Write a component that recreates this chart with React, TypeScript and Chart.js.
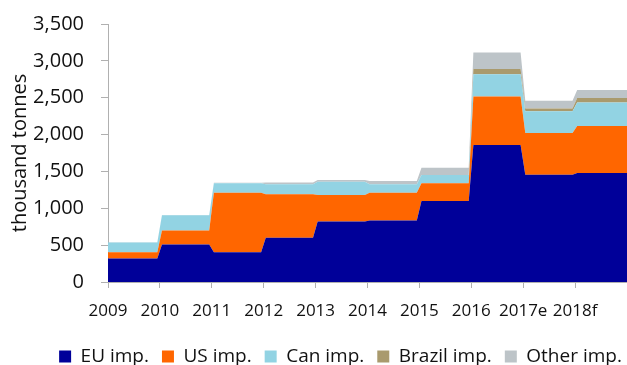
import React, { useEffect, useRef } from "react";
import { Chart, registerables } from "chart.js";

Chart.register(...registerables);

const years = [2009, 2010, 2011, 2012, 2013, 2014, 2015, 2016, 2017, 2018];
const yearLabels = ["2009", "2010", "2011", "2012", "2013", "2014", "2015", "2016", "2017e", "2018f"];
const euImp = [320, 510, 405, 600, 820, 835, 1100, 1860, 1455, 1480];
const usImp = [85, 190, 805, 590, 360, 375, 240, 655, 565, 635];
const canImp = [130, 205, 130, 135, 180, 115, 110, 305, 295, 320];
const brazilImp = [0, 0, 0, 0, 0, 0, 0, 70, 40, 60];
const otherImp = [5, 5, 5, 25, 25, 45, 100, 225, 105, 110];

const FONT = "'Open Sans', 'Noto Sans', sans-serif";

function stepPoints(values: number[]) {
  const pts: { x: number; y: number }[] = [];
  values.forEach((v, i) => {
    const y0 = years[i];
    const start = i === 0 ? y0 : y0 + 0.04;
    const end = i === values.length - 1 ? y0 + 1 : y0 + 0.95;
    pts.push({ x: start, y: v });
    pts.push({ x: end, y: v });
  });
  return pts;
}

const legendShift = {
  id: "legendShift",
  afterLayout(chart: any) {
    if (chart.legend) {
      chart.legend.left += 27;
      chart.legend.right += 27;
    }
  },
};

export default function App() {
  const ref = useRef<HTMLCanvasElement | null>(null);

  useEffect(() => {
    if (!ref.current) return;
    const series = [
      { label: "EU imp.", data: euImp, color: "#000099" },
      { label: "US imp.", data: usImp, color: "#FF6600" },
      { label: "Can imp.", data: canImp, color: "#92D3E3" },
      { label: "Brazil imp.", data: brazilImp, color: "#A99A6D" },
      { label: "Other imp.", data: otherImp, color: "#BDC4C8" },
    ];
    const chart = new Chart(ref.current, {
      type: "line",
      data: {
        datasets: series.map((s, i) => ({
          label: s.label,
          data: stepPoints(s.data),
          backgroundColor: s.color,
          borderColor: s.color,
          borderWidth: 0,
          pointRadius: 0,
          fill: i === 0 ? "origin" : "-1",
          tension: 0,
        })),
      },
      plugins: [legendShift],
      options: {
        animation: false,
        responsive: false,
        maintainAspectRatio: false,
        layout: { padding: { top: 24, left: 0, right: 0, bottom: -11 } },
        plugins: {
          tooltip: { enabled: false },
          legend: {
            position: "bottom",
            labels: {
              boxWidth: 12,
              boxHeight: 12,
              padding: 13,
              color: "#111",
              font: { family: FONT, size: 19 },
            },
          },
        },
        scales: {
          x: {
            type: "linear",
            min: 2009,
            max: 2019,
            afterFit: (scale: any) => {
              scale.height -= 0.4;
              scale.paddingRight = 0;
              scale.paddingLeft = 0;
            },
            grid: { display: true, drawOnChartArea: false, drawTicks: true, tickLength: 6, color: "#b0b0b0" },
            border: { display: true, color: "#b0b0b0" },
            ticks: {
              stepSize: 1,
              autoSkip: false,
              maxRotation: 0,
              padding: 13,
              color: "#111",
              font: { family: FONT, size: 17 },
              callback: (v: any) => {
                const idx = years.indexOf(Number(v));
                return idx >= 0 ? yearLabels[idx] : "";
              },
            },
          },
          y: {
            stacked: true,
            min: 0,
            max: 3500,
            afterFit: (scale: any) => {
              scale.width = 108;
              scale.paddingTop = 0;
              scale.paddingBottom = 0;
            },
            grid: { display: true, drawOnChartArea: false, drawTicks: true, tickLength: 7, color: "#b0b0b0" },
            border: { display: true, color: "#b0b0b0" },
            ticks: {
              stepSize: 500,
              padding: 17,
              color: "#111",
              font: { family: FONT, size: 20 },
              callback: (v: any) => Number(v).toLocaleString("en-US"),
            },
            title: {
              display: true,
              text: "thousand tonnes",
              color: "#111",
              font: { family: FONT, size: 20 },
              padding: { top: 8, bottom: 0 },
            },
          },
        },
      },
    });
    return () => chart.destroy();
  }, []);

  return (
    <div style={{ position: "fixed", left: 0, top: 0, width: 627, height: 365, background: "#fff" }}>
      <canvas ref={ref} width={627} height={365} style={{ display: "block" }} />
    </div>
  );
}
